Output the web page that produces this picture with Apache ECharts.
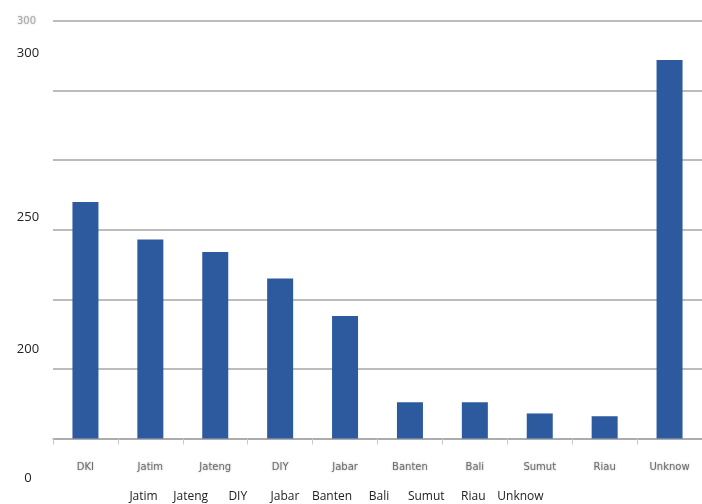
<!DOCTYPE html>
<html>
<head>
<meta charset="utf-8">
<script src="https://cdn.jsdelivr.net/npm/echarts@6/dist/echarts.min.js"></script>
<style>
    html, body { margin: 0; padding: 0; background: #fff; }
    #chart { width: 702px; height: 504px; }
</style>
</head>
<body>
<div id="chart"></div>
<script>
    // province names under the bars
    const categories = ['DKI', 'Jatim', 'Jateng', 'DIY', 'Jabar', 'Banten', 'Bali', 'Sumut', 'Riau', 'Unknow'];
    // bar heights
    const values = [170, 143, 134, 115, 88, 26, 26, 18, 16, 272];
    // the sharp labels pasted over the left side and the bottom row
    const sideLabels = ['300', '250', '200', '0'];
    const bottomRow = ['Jatim', 'Jateng', 'DIY', 'Jabar', 'Banten', 'Bali', 'Sumut', 'Riau', 'Unknow'];

    const sideY = [53, 217, 349, 478];

    let myChart = echarts.init(document.getElementById('chart'));
    myChart.setOption({
        animation: false,
        grid: [
            {left: 53, right: -3, top: 21, bottom: 65.5},
            {left: 120, width: 424, top: 485, height: 1}
        ],
        xAxis: [
            {
                type: 'category',
                data: categories,
                gridIndex: 0,
                axisLine: {lineStyle: {color: '#a6a6a6', width: 1.5}},
                axisTick: {show: true, length: 6, lineStyle: {color: '#c8c8c8'}},
                axisLabel: {margin: 24, fontSize: 10, color: '#6e6e6e', fontFamily: 'DejaVu Sans',
                    textShadowColor: 'rgba(120,120,120,0.6)', textShadowBlur: 2}
            },
            {
                type: 'category',
                data: bottomRow,
                gridIndex: 1,
                axisLine: {show: false},
                axisTick: {show: false},
                axisLabel: {margin: 5, fontSize: 12, color: '#222', fontFamily: 'Open Sans', interval: 0}
            }
        ],
        yAxis: [
            {
                type: 'value',
                gridIndex: 0,
                min: 0,
                max: 300,
                interval: 50,
                axisLine: {show: false},
                axisTick: {show: false},
                splitLine: {lineStyle: {color: '#a6a6a6', width: 1.5}},
                axisLabel: {
                    margin: 17, fontSize: 10, color: '#aaa', fontFamily: 'DejaVu Sans',
                    textShadowColor: 'rgba(150,150,150,0.6)', textShadowBlur: 2,
                    formatter: function (v) { return v === 300 ? '300' : ''; }
                }
            },
            {type: 'value', gridIndex: 1, show: false}
        ],
        series: [
            {
                type: 'bar',
                xAxisIndex: 0,
                yAxisIndex: 0,
                data: values,
                barWidth: 26,
                itemStyle: {color: '#2d5a9e'}
            }
        ],
        graphic: sideLabels.map(function (t, i) {
            return {
                type: 'text',
                x: 28,
                y: sideY[i],
                style: {text: t, fill: '#222', font: '13px "Open Sans"', align: 'center', verticalAlign: 'middle'}
            };
        })
    });
</script>
</body>
</html>
